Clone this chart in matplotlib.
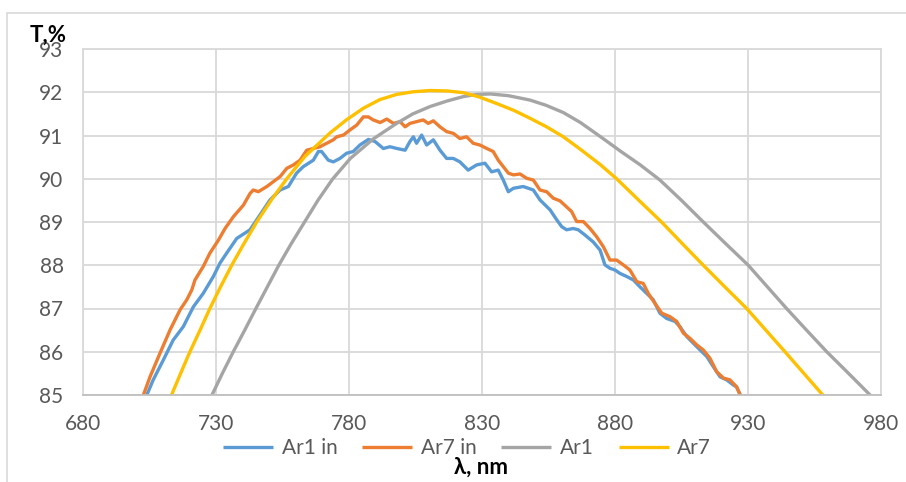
import matplotlib
matplotlib.use("Agg")
import matplotlib.pyplot as plt
from matplotlib.patches import Rectangle

# wavelength (nm) and transmission (%)
ar1_in_x = [703.3, 706.4, 710.2, 713.9, 717.7, 721.5, 725.2, 729.0, 731.5, 734.0,
            737.8, 742.8, 747.8, 750.3, 754.1, 757.2, 760.3, 762.8, 766.6, 768.5,
            769.7, 772.2, 774.1, 776.6, 779.1, 781.6, 784.1, 787.3, 789.8, 792.9,
            795.4, 798.0, 801.1, 802.9, 804.2, 805.4, 807.3, 809.2, 811.7, 814.2,
            816.7, 819.2, 821.7, 824.8, 828.0, 831.1, 833.6, 836.1, 838.0, 839.9,
            841.8, 845.5, 849.3, 851.8, 855.6, 858.1, 860.0, 861.8, 864.3, 866.2,
            868.7, 871.8, 874.4, 876.2, 878.1, 880.0, 881.9, 884.4, 886.9, 889.4,
            891.9, 894.4, 896.9, 899.4, 902.6, 904.4, 907.0, 909.4, 912.0, 914.5,
            917.0, 919.5, 922.0, 924.5, 925.7, 927.8]
ar1_in_y = [84.90, 85.35, 85.81, 86.27, 86.58, 87.04, 87.35, 87.74, 88.05, 88.28,
            88.62, 88.82, 89.28, 89.51, 89.74, 89.82, 90.13, 90.28, 90.43, 90.63,
            90.63, 90.43, 90.39, 90.47, 90.59, 90.63, 90.78, 90.91, 90.86, 90.70,
            90.74, 90.70, 90.66, 90.86, 90.97, 90.82, 91.01, 90.78, 90.90, 90.66,
            90.47, 90.47, 90.39, 90.20, 90.32, 90.36, 90.16, 90.20, 89.97, 89.70,
            89.78, 89.82, 89.74, 89.51, 89.28, 89.05, 88.89, 88.82, 88.85, 88.82,
            88.70, 88.54, 88.35, 88.01, 87.93, 87.89, 87.81, 87.74, 87.66, 87.50,
            87.35, 87.20, 86.89, 86.77, 86.70, 86.58, 86.35, 86.20, 86.04, 85.89,
            85.65, 85.42, 85.35, 85.23, 85.19, 84.90]

ar7_in_x = [702.1, 705.2, 708.9, 712.7, 716.5, 719.0, 720.9, 722.1, 725.2, 727.7,
            730.9, 733.4, 736.5, 740.3, 742.8, 744.0, 745.9, 749.1, 751.5, 754.1,
            756.6, 759.1, 761.6, 764.1, 766.6, 769.1, 771.6, 774.1, 775.4, 777.9,
            780.4, 782.9, 785.4, 787.3, 789.1, 791.7, 794.2, 796.7, 799.2, 801.1,
            802.9, 805.4, 807.9, 809.8, 811.7, 814.2, 816.7, 819.2, 821.7, 824.2,
            826.7, 829.2, 831.8, 834.2, 836.1, 838.0, 839.9, 841.8, 844.3, 846.8,
            849.3, 851.8, 854.3, 856.8, 859.3, 861.8, 863.7, 865.6, 868.1, 870.6,
            873.1, 875.6, 878.1, 880.6, 883.1, 885.6, 888.2, 890.6, 892.5, 895.0,
            897.6, 900.7, 903.2, 905.7, 908.2, 910.7, 913.2, 915.7, 918.2, 920.8,
            923.2, 925.7, 927.8]
ar7_in_y = [84.90, 85.42, 85.96, 86.50, 86.97, 87.20, 87.43, 87.66, 87.97, 88.28,
            88.58, 88.85, 89.12, 89.39, 89.66, 89.74, 89.70, 89.82, 89.93, 90.05,
            90.24, 90.32, 90.43, 90.66, 90.70, 90.74, 90.82, 90.90, 90.97, 91.01,
            91.13, 91.24, 91.43, 91.43, 91.36, 91.30, 91.38, 91.28, 91.32, 91.20,
            91.28, 91.32, 91.36, 91.28, 91.34, 91.20, 91.09, 91.05, 90.93, 90.97,
            90.82, 90.78, 90.70, 90.63, 90.43, 90.28, 90.13, 90.09, 90.11, 90.01,
            89.97, 89.74, 89.70, 89.55, 89.49, 89.35, 89.24, 89.01, 89.01, 88.85,
            88.66, 88.43, 88.12, 88.12, 88.01, 87.89, 87.62, 87.58, 87.35, 87.12,
            86.89, 86.81, 86.70, 86.43, 86.31, 86.16, 86.04, 85.85, 85.54, 85.39,
            85.35, 85.19, 84.90]

ar1_x = [727.7, 732.4, 736.5, 740.8, 745.0, 749.3, 753.6, 758.3, 763.3, 768.3,
         773.8, 780.5, 789.1, 797.9, 804.0, 810.5, 817.0, 823.0, 828.0, 833.2,
         840.0, 848.0, 854.0, 860.6, 867.0, 875.5, 882.0, 889.5, 896.9, 905.0,
         913.2, 921.6, 930.1, 937.3, 944.5, 952.0, 959.6, 967.8, 975.9, 977.5]
ar1_y = [84.90, 85.50, 86.00, 86.50, 87.00, 87.50, 88.00, 88.50, 89.00, 89.50,
         89.99, 90.47, 90.92, 91.28, 91.50, 91.67, 91.80, 91.90, 91.95, 91.96,
         91.92, 91.82, 91.70, 91.53, 91.30, 90.93, 90.64, 90.32, 89.97, 89.50,
         89.00, 88.50, 88.00, 87.50, 87.00, 86.50, 86.00, 85.50, 85.00, 84.90]

ar7_x = [712.6, 716.7, 720.2, 724.0, 727.7, 731.7, 735.9, 740.5, 745.3, 750.7,
         756.6, 763.5, 772.9, 779.0, 785.4, 791.6, 797.9, 804.0, 810.5, 817.0,
         823.0, 829.0, 835.5, 842.0, 848.0, 854.3, 860.6, 867.0, 874.4, 880.6,
         889.0, 897.5, 905.3, 913.2, 921.3, 929.5, 936.7, 943.9, 951.0, 958.1,
         959.5]
ar7_y = [84.90, 85.50, 86.00, 86.50, 87.00, 87.50, 88.00, 88.50, 89.00, 89.50,
         90.00, 90.52, 91.06, 91.36, 91.63, 91.83, 91.95, 92.01, 92.04, 92.03,
         91.99, 91.89, 91.74, 91.58, 91.40, 91.20, 90.97, 90.68, 90.33, 90.00,
         89.50, 89.00, 88.50, 88.00, 87.50, 87.00, 86.50, 86.00, 85.50, 85.00,
         84.90]

x_ticks = [680, 730, 780, 830, 880, 930, 980]
y_ticks = [85, 86, 87, 88, 89, 90, 91, 92, 93]

plt.rcParams['font.family'] = ["Lato", 'DejaVu Sans']

fig = plt.figure(figsize=(9.06, 4.82), dpi=100)
ax = fig.add_axes([83 / 906, 1 - 395 / 482, 798 / 906, 346 / 482])

# chart-area border
fig.patches.append(Rectangle((7 / 906, -0.1), 1.2, 1 - 13 / 482 + 0.1,
                             transform=fig.transFigure, fill=False,
                             edgecolor="#D9D9D9", lw=1.2, zorder=0))

kw = dict(lw=2.4, solid_joinstyle="round", solid_capstyle="butt")
ax.plot(ar1_in_x, ar1_in_y, color="#5B9BD5", label="Ar1 in", **kw)
ax.plot(ar7_in_x, ar7_in_y, color="#ED7D31", label="Ar7 in", **kw)
ax.plot(ar1_x, ar1_y, color="#A5A5A5", label="Ar1", **kw)
ax.plot(ar7_x, ar7_y, color="#FFC000", label="Ar7", **kw)

ax.set_xlim(680, 980)
ax.set_ylim(85, 93)
ax.set_xticks(x_ticks)
ax.set_yticks(y_ticks)
ax.grid(True, color="#D9D9D9", lw=1.3)
ax.set_axisbelow(True)
for s in ax.spines.values():
    s.set_color("#D9D9D9")
    s.set_linewidth(1.3)
ax.spines["bottom"].set_color("#BFBFBF")
ax.tick_params(length=0, labelsize=15, labelcolor="#595959")
ax.tick_params(axis="y", pad=14)
ax.tick_params(axis="x", pad=14)

fig.text(48 / 906, 1 - 35 / 482, "T,%", fontsize=16, fontweight="bold",
         ha="center", va="center")
fig.text(481 / 906, 1 - 467 / 482, "λ, nm", fontsize=16, fontweight="bold",
         ha="center", va="center")

fig.legend(loc="center", bbox_to_anchor=(467 / 906, 1 - 448 / 482), ncol=4,
           frameon=False, fontsize=15, handlelength=2.4, handletextpad=0.4,
           columnspacing=1.2, labelcolor="#595959")

fig.savefig("out.png", dpi=100)
